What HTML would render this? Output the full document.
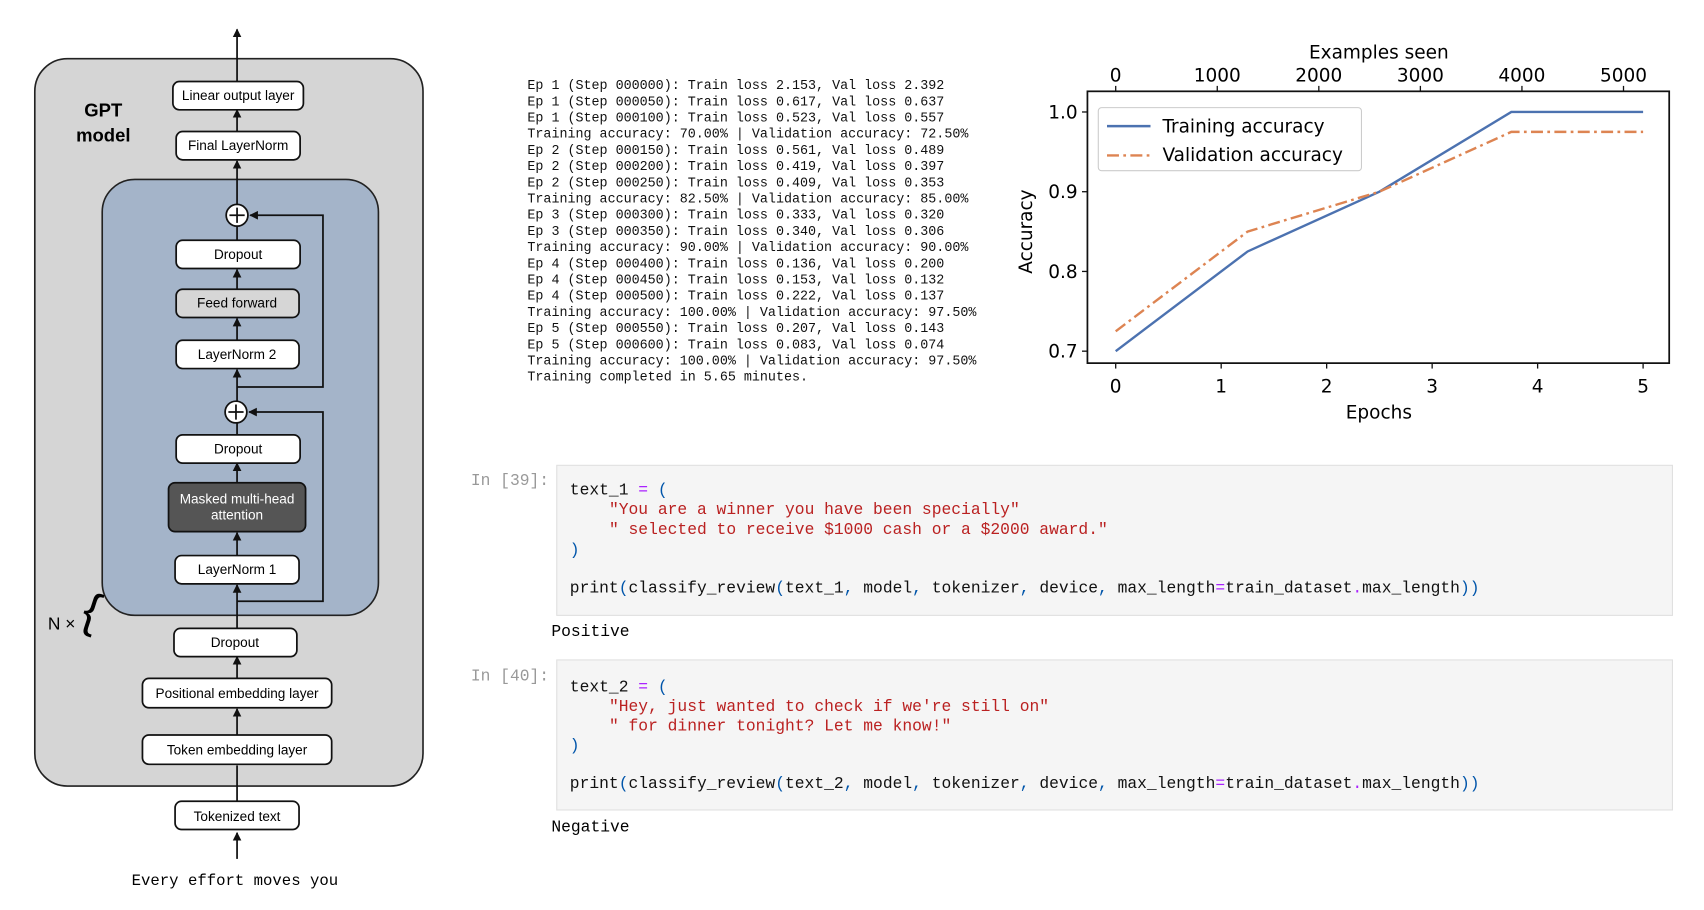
<!DOCTYPE html>
<html><head><meta charset="utf-8"><style>
html,body{margin:0;padding:0;background:#fff;width:1704px;height:910px;overflow:hidden}
svg text{font-family:"Liberation Sans",Arial,sans-serif}
svg .mono, svg .mono text, svg text.mono{font-family:"Liberation Mono","DejaVu Sans Mono",monospace;white-space:pre}
svg .dv, svg text.dv, svg .dv text{font-family:"DejaVu Sans","Liberation Sans",sans-serif}
</style></head><body>
<svg id="root" width="1704" height="910" viewBox="0 0 1567 837" preserveAspectRatio="none" xmlns="http://www.w3.org/2000/svg">
<defs>
<marker id="ah" viewBox="0 0 10 10" refX="9" refY="5" markerWidth="5" markerHeight="5" orient="auto-start-reverse"><path d="M0,0L10,5L0,10z" fill="#111"/></marker>
</defs>
<g id="diagram">
<rect x="32" y="54" width="357" height="669" rx="30" fill="#d5d5d5" stroke="#222" stroke-width="1.5"/>
<text x="95" y="107" font-size="17" font-weight="bold" text-anchor="middle">GPT</text>
<text x="95" y="130" font-size="17" font-weight="bold" text-anchor="middle">model</text>
<rect x="94" y="165" width="254" height="401" rx="30" fill="#a4b4c9" stroke="#222" stroke-width="1.5"/>
<g stroke="#111" stroke-width="1.6" fill="none">
<line x1="218" y1="75" x2="218" y2="27" marker-end="url(#ah)"/>
<line x1="218" y1="121" x2="218" y2="101" marker-end="url(#ah)"/>
<line x1="218" y1="188" x2="218" y2="148" marker-end="url(#ah)"/>
<line x1="218" y1="221" x2="218" y2="208"/>
<line x1="218" y1="266" x2="218" y2="248" marker-end="url(#ah)"/>
<line x1="218" y1="313" x2="218" y2="293" marker-end="url(#ah)"/>
<line x1="218" y1="369" x2="218" y2="340" marker-end="url(#ah)"/>
<polyline points="218,356 297,356 297,198 230,198" marker-end="url(#ah)"/>
<line x1="218" y1="400" x2="218" y2="389"/>
<line x1="218" y1="444" x2="218" y2="426" marker-end="url(#ah)"/>
<line x1="218" y1="511" x2="218" y2="490" marker-end="url(#ah)"/>
<polyline points="218,553 297,553 297,379 229,379" marker-end="url(#ah)"/>
<line x1="218" y1="578" x2="218" y2="538" marker-end="url(#ah)"/>
<line x1="218" y1="624" x2="218" y2="604" marker-end="url(#ah)"/>
<line x1="218" y1="676" x2="218" y2="652" marker-end="url(#ah)"/>
<line x1="218" y1="737" x2="218" y2="704"/>
<line x1="218" y1="790" x2="218" y2="766" marker-end="url(#ah)"/>
</g>
<g><circle cx="218" cy="198" r="10" fill="#fff" stroke="#111" stroke-width="1.6"/><path d="M211,198h14M218,191v14" stroke="#111" stroke-width="1.6"/></g>
<g><circle cx="217" cy="379" r="10" fill="#fff" stroke="#111" stroke-width="1.6"/><path d="M210,379h14M217,372v14" stroke="#111" stroke-width="1.6"/></g>
<g font-size="12.5" text-anchor="middle">
<g><rect x="159" y="75" width="120" height="26" rx="6" fill="#fff" stroke="#111" stroke-width="1.6"/><text x="219" y="92">Linear output layer</text></g>
<g><rect x="162" y="121" width="114" height="26" rx="6" fill="#fff" stroke="#111" stroke-width="1.6"/><text x="219" y="138">Final LayerNorm</text></g>
<g><rect x="162" y="221" width="114" height="26" rx="6" fill="#fff" stroke="#111" stroke-width="1.6"/><text x="219" y="238">Dropout</text></g>
<g><rect x="162" y="266" width="113" height="26" rx="6" fill="#d6d6d6" stroke="#111" stroke-width="1.6"/><text x="218" y="283">Feed forward</text></g>
<g><rect x="162" y="313" width="113" height="26" rx="6" fill="#fff" stroke="#111" stroke-width="1.6"/><text x="218" y="330">LayerNorm 2</text></g>
<g><rect x="162" y="400" width="114" height="26" rx="6" fill="#fff" stroke="#111" stroke-width="1.6"/><text x="219" y="417">Dropout</text></g>
<g><rect x="155" y="444" width="126" height="45" rx="6" fill="#555" stroke="#111" stroke-width="1.6"/><text x="218" y="463" fill="#fff">Masked multi-head</text><text x="218" y="478" fill="#fff">attention</text></g>
<g><rect x="161" y="511" width="114" height="26" rx="6" fill="#fff" stroke="#111" stroke-width="1.6"/><text x="218" y="528">LayerNorm 1</text></g>
<g><rect x="160" y="578" width="113" height="26" rx="6" fill="#fff" stroke="#111" stroke-width="1.6"/><text x="216" y="595">Dropout</text></g>
<g><rect x="131" y="624" width="174" height="27" rx="6" fill="#fff" stroke="#111" stroke-width="1.6"/><text x="218" y="642">Positional embedding layer</text></g>
<g><rect x="131" y="676" width="174" height="27" rx="6" fill="#fff" stroke="#111" stroke-width="1.6"/><text x="218" y="694">Token embedding layer</text></g>
<g><rect x="161" y="737" width="114" height="26" rx="6" fill="#fff" stroke="#111" stroke-width="1.6"/><text x="218" y="755">Tokenized text</text></g>
</g>
<text x="44" y="579" font-size="16">N ×</text>
<text x="78" y="578" font-size="44" font-family="Liberation Serif,serif" transform="rotate(18 90 560)">{</text>
<text class="mono" x="216" y="814" font-size="14.4" text-anchor="middle">Every effort moves you</text>
</g>

<g id="log" class="mono" font-size="12.3" fill="#111"></g>

<g id="chart"></g>

<g>
<text x="433" y="446" class="mono" font-size="15" fill="#999">In [39]:</text>
<rect x="512" y="428" width="1026" height="138" fill="#f5f5f5" stroke="#e0e0e0"/>
<g class="mono" font-size="15">
<text x="524" y="455"><tspan fill="#111">text_1 </tspan><tspan fill="#a2f">=</tspan><tspan fill="#05a"> (</tspan></text>
<text x="560" y="473" fill="#ba2121">"You are a winner you have been specially"</text>
<text x="560" y="491" fill="#ba2121">" selected to receive $1000 cash or a $2000 award."</text>
<text x="524" y="510" fill="#05a">)</text>
<text x="524" y="545"><tspan fill="#111">print</tspan><tspan fill="#05a">(</tspan><tspan fill="#111">classify_review</tspan><tspan fill="#05a">(</tspan><tspan fill="#111">text_1</tspan><tspan fill="#05a">, </tspan><tspan fill="#111">model</tspan><tspan fill="#05a">, </tspan><tspan fill="#111">tokenizer</tspan><tspan fill="#05a">, </tspan><tspan fill="#111">device</tspan><tspan fill="#05a">, </tspan><tspan fill="#111">max_length</tspan><tspan fill="#a2f">=</tspan><tspan fill="#111">train_dataset</tspan><tspan fill="#a2f">.</tspan><tspan fill="#111">max_length</tspan><tspan fill="#05a">))</tspan></text>
</g>
<text x="507" y="585" class="mono" font-size="15">Positive</text>
</g>
<g>
<text x="433" y="626" class="mono" font-size="15" fill="#999">In [40]:</text>
<rect x="512" y="607" width="1026" height="138" fill="#f5f5f5" stroke="#e0e0e0"/>
<g class="mono" font-size="15">
<text x="524" y="636"><tspan fill="#111">text_2 </tspan><tspan fill="#a2f">=</tspan><tspan fill="#05a"> (</tspan></text>
<text x="560" y="654" fill="#ba2121">"Hey, just wanted to check if we're still on"</text>
<text x="560" y="672" fill="#ba2121">" for dinner tonight? Let me know!"</text>
<text x="524" y="690" fill="#05a">)</text>
<text x="524" y="725"><tspan fill="#111">print</tspan><tspan fill="#05a">(</tspan><tspan fill="#111">classify_review</tspan><tspan fill="#05a">(</tspan><tspan fill="#111">text_2</tspan><tspan fill="#05a">, </tspan><tspan fill="#111">model</tspan><tspan fill="#05a">, </tspan><tspan fill="#111">tokenizer</tspan><tspan fill="#05a">, </tspan><tspan fill="#111">device</tspan><tspan fill="#05a">, </tspan><tspan fill="#111">max_length</tspan><tspan fill="#a2f">=</tspan><tspan fill="#111">train_dataset</tspan><tspan fill="#a2f">.</tspan><tspan fill="#111">max_length</tspan><tspan fill="#05a">))</tspan></text>
</g>
<text x="507" y="765" class="mono" font-size="15">Negative</text>
</g>
</svg>
<script>
const logLines = [
"Ep 1 (Step 000000): Train loss 2.153, Val loss 2.392",
"Ep 1 (Step 000050): Train loss 0.617, Val loss 0.637",
"Ep 1 (Step 000100): Train loss 0.523, Val loss 0.557",
"Training accuracy: 70.00% | Validation accuracy: 72.50%",
"Ep 2 (Step 000150): Train loss 0.561, Val loss 0.489",
"Ep 2 (Step 000200): Train loss 0.419, Val loss 0.397",
"Ep 2 (Step 000250): Train loss 0.409, Val loss 0.353",
"Training accuracy: 82.50% | Validation accuracy: 85.00%",
"Ep 3 (Step 000300): Train loss 0.333, Val loss 0.320",
"Ep 3 (Step 000350): Train loss 0.340, Val loss 0.306",
"Training accuracy: 90.00% | Validation accuracy: 90.00%",
"Ep 4 (Step 000400): Train loss 0.136, Val loss 0.200",
"Ep 4 (Step 000450): Train loss 0.153, Val loss 0.132",
"Ep 4 (Step 000500): Train loss 0.222, Val loss 0.137",
"Training accuracy: 100.00% | Validation accuracy: 97.50%",
"Ep 5 (Step 000550): Train loss 0.207, Val loss 0.143",
"Ep 5 (Step 000600): Train loss 0.083, Val loss 0.074",
"Training accuracy: 100.00% | Validation accuracy: 97.50%",
"Training completed in 5.65 minutes."
];
// chart data
const epochs = [0, 1.25, 2.5, 3.75, 5];
const trainAcc = [0.70, 0.825, 0.90, 1.0, 1.0];
const valAcc = [0.725, 0.85, 0.90, 0.975, 0.975];
const epochTicks = [0, 1, 2, 3, 4, 5];
const yTicks = [0.7, 0.8, 0.9, 1.0];
const exampleTicks = [0, 1000, 2000, 3000, 4000, 5000];
const examplesMax = 5193;

const NS = "http://www.w3.org/2000/svg";
function mk(parent, tag, attrs, txt){
  const e = document.createElementNS(NS, tag);
  for (const k in attrs) e.setAttribute(k, attrs[k]);
  if (txt !== undefined) e.textContent = txt;
  parent.appendChild(e); return e;
}
const log = document.getElementById('log');
logLines.forEach((l, i) => {
  const t = mk(log, 'text', {x: 485, y: 82 + i * 14.9}, l);
  
  
});

const g = document.getElementById('chart');
const L = 1000, R = 1535, T = 84, B = 334;
const xE = e => 1026 + (e - 0) * (1511 - 1026) / 5;
const yA = a => 103 + (1.0 - a) * (323 - 103) / 0.3;
const xX = n => xE(n / examplesMax * 5);

function line(vals, color, dash, name){
  const pts = epochs.map((e, i) => xE(e).toFixed(1) + ',' + yA(vals[i]).toFixed(1)).join(' ');
  const p = mk(g, 'polyline', {points: pts, fill: 'none', stroke: color, 'stroke-width': 2.2});
  if (dash) p.setAttribute('stroke-dasharray', dash);
  
  
}
line(trainAcc, '#4c72b0', null, 'training-accuracy-line');
line(valAcc, '#dd8452', '11,4,2.5,4', 'validation-accuracy-line');

const frame = mk(g, 'rect', {x: L, y: T, width: R - L, height: B - T, fill: 'none', stroke: '#111', 'stroke-width': 1.6});



epochTicks.forEach(v => {
  mk(g, 'line', {x1: xE(v), x2: xE(v), y1: B, y2: B + 5, stroke: '#111', 'stroke-width': 1.2});
  const t = mk(g, 'text', {x: xE(v), y: 361, 'font-size': 17, 'text-anchor': 'middle', class: 'dv'}, String(v));
  
  
});
yTicks.forEach(v => {
  mk(g, 'line', {x1: L - 5, x2: L, y1: yA(v), y2: yA(v), stroke: '#111', 'stroke-width': 1.2});
  const t = mk(g, 'text', {x: L - 9, y: yA(v) + 6, 'font-size': 17, 'text-anchor': 'end', class: 'dv'}, v.toFixed(1));
  
  
});
exampleTicks.forEach(v => {
  mk(g, 'line', {x1: xX(v), x2: xX(v), y1: T - 5, y2: T, stroke: '#111', 'stroke-width': 1.2});
  const t = mk(g, 'text', {x: xX(v), y: 75, 'font-size': 17, 'text-anchor': 'middle', class: 'dv'}, String(v));
  
  
});
let t;
t = mk(g, 'text', {x: 1268, y: 385, 'font-size': 17, 'text-anchor': 'middle', class: 'dv'}, 'Epochs');


t = mk(g, 'text', {x: 1268, y: 54, 'font-size': 17, 'text-anchor': 'middle', class: 'dv'}, 'Examples seen');


t = mk(g, 'text', {x: 0, y: 0, 'font-size': 17, 'text-anchor': 'middle', class: 'dv', transform: 'translate(949,213) rotate(-90)'}, 'Accuracy');



const lg = mk(g, 'g', {});


mk(lg, 'rect', {x: 1010, y: 99, width: 242, height: 58, rx: 3, fill: '#fff', 'fill-opacity': 0.85, stroke: '#ccc'});
const e1 = mk(lg, 'line', {x1: 1018, x2: 1058, y1: 116, y2: 116, stroke: '#4c72b0', 'stroke-width': 2.2});


mk(lg, 'text', {x: 1069, y: 122, 'font-size': 17, class: 'dv'}, 'Training accuracy');
const e2 = mk(lg, 'line', {x1: 1018, x2: 1058, y1: 143, y2: 143, stroke: '#dd8452', 'stroke-width': 2.2, 'stroke-dasharray': '11,4,2.5,4'});


mk(lg, 'text', {x: 1069, y: 148, 'font-size': 17, class: 'dv'}, 'Validation accuracy');
</script>
</body></html>
